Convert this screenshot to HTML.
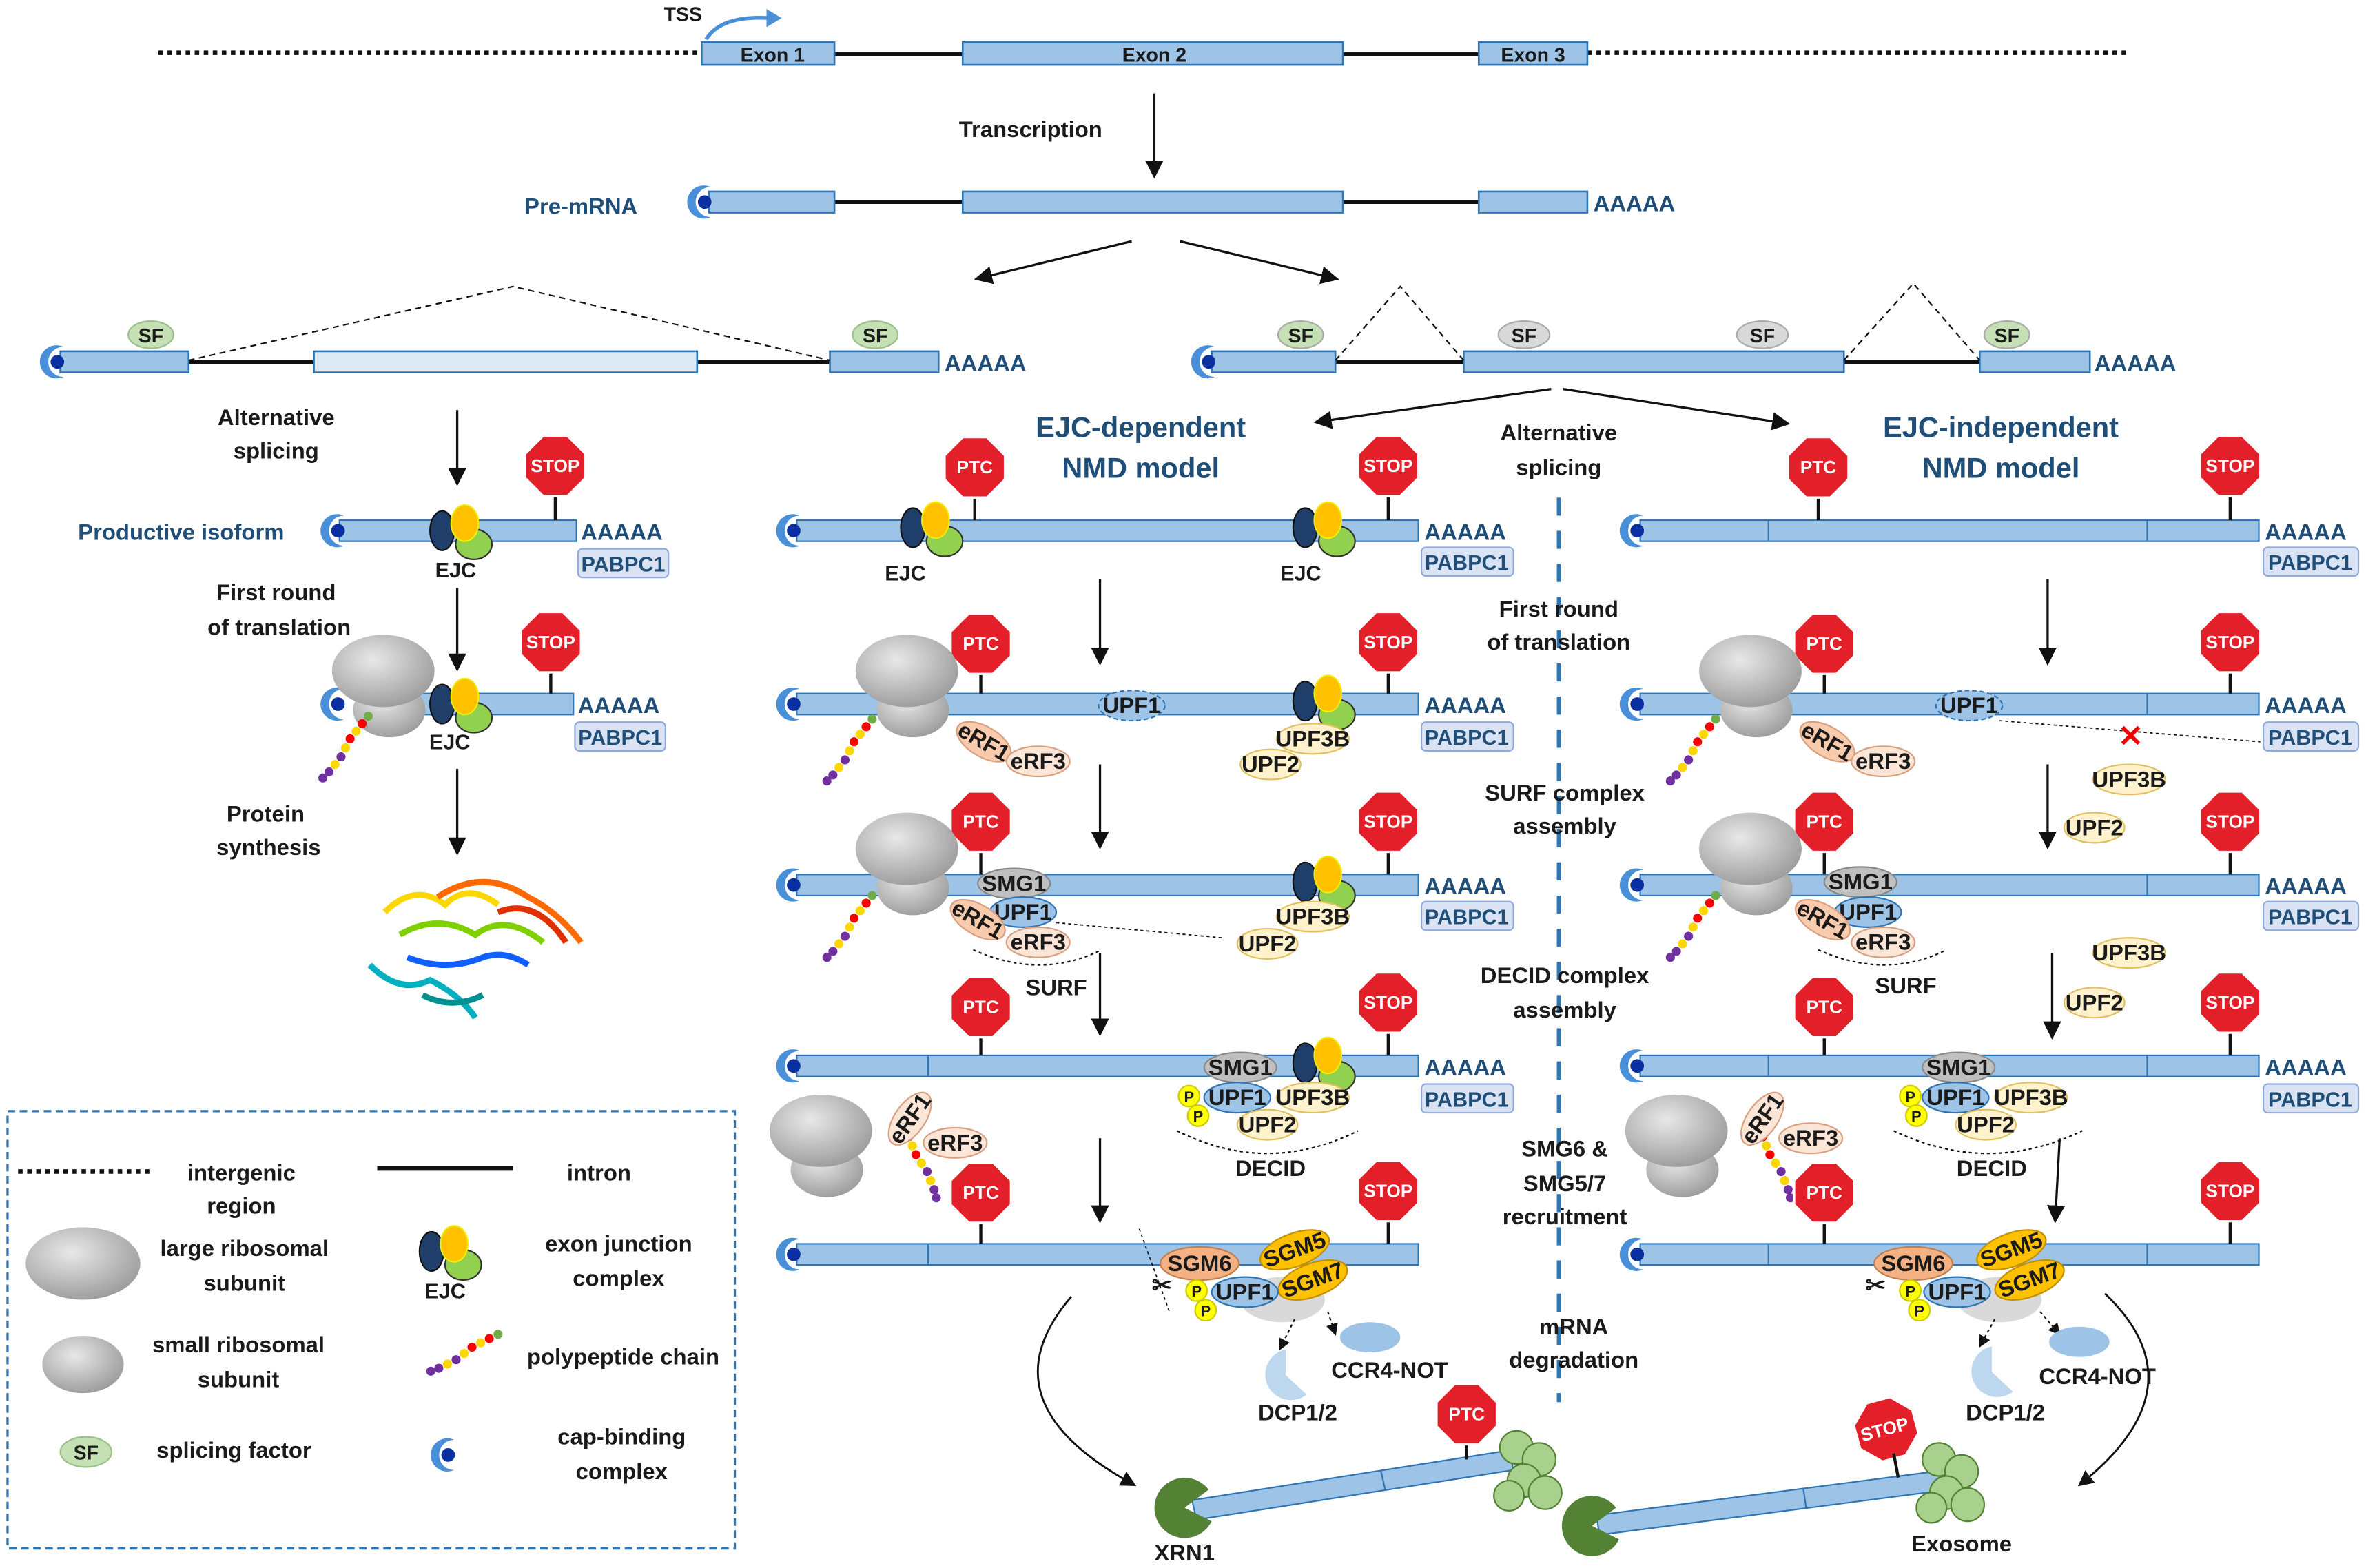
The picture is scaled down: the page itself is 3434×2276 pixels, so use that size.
<!DOCTYPE html>
<html><head><meta charset="utf-8"><style>
html,body{margin:0;padding:0;background:#fff}
svg{display:block}
text{font-family:"Liberation Sans",sans-serif;font-weight:bold;font-size:15px;fill:#1a1a1a}
.c{text-anchor:middle}
.b{fill:#1f4e79}
.w{fill:#fff;font-size:12px;text-anchor:middle}
.s{font-size:13px;text-anchor:middle}
</style></head><body>
<svg width="3434" height="2276" viewBox="0 0 1568 1040" preserveAspectRatio="none" xmlns="http://www.w3.org/2000/svg">
<defs>
<radialGradient id="g" cx="40%" cy="35%" r="70%"><stop offset="0" stop-color="#e8e8e8"/><stop offset="1" stop-color="#9a9a9a"/></radialGradient>
<polygon id="oct" points="-8,-20 8,-20 20,-8 20,8 8,20 -8,20 -20,8 -20,-8" fill="#e3202a" stroke="#fff" stroke-width="1.5"/>
<g id="cap"><path d="M6,-10 A11,11 0 1 0 6,10 A8,8 0 0 1 6,-10Z" fill="#4a90d9"/><circle cx="2" cy="0" r="4.5" fill="#0a2fa0"/></g>
<g id="rib"><ellipse cx="0" cy="16" rx="24" ry="18" fill="url(#g)"/><ellipse cx="-4" cy="-10" rx="34" ry="24" fill="url(#g)"/></g>
<g id="ejc"><ellipse cx="-7" cy="0" rx="8" ry="13" fill="#1f3e6a" stroke="#111"/><ellipse cx="14" cy="9" rx="12" ry="10" fill="#92d050" stroke="#333"/><ellipse cx="8" cy="-5" rx="9" ry="12" fill="#ffc000" stroke="#ee0"/></g>
<g id="pep"><circle cx="0" cy="0" r="3" fill="#70ad47"/><circle cx="-4" cy="5" r="3" fill="#ff0000"/><circle cx="-8" cy="10" r="3" fill="#ffd700"/><circle cx="-12" cy="15" r="3" fill="#ff0000"/><circle cx="-15" cy="21" r="3" fill="#ffd700"/><circle cx="-18" cy="27" r="3" fill="#7030a0"/><circle cx="-22" cy="32" r="3" fill="#ffd700"/><circle cx="-26" cy="37" r="3" fill="#7030a0"/><circle cx="-30" cy="41" r="3" fill="#7030a0"/></g>
<marker id="ar" markerWidth="8" markerHeight="8" refX="7" refY="4" orient="auto"><path d="M0,0 L8,4 L0,8Z" fill="#111"/></marker>
</defs>
<!-- top gene -->
<line x1="105" y1="35" x2="465" y2="35" stroke="#111" stroke-width="3" stroke-dasharray="3,3"/>
<line x1="1052" y1="35" x2="1410" y2="35" stroke="#111" stroke-width="3" stroke-dasharray="3,3"/>
<line x1="553" y1="36" x2="980" y2="36" stroke="#111" stroke-width="2.5"/>
<g fill="#9dc3e6" stroke="#2e75b6" stroke-width="1.2">
<rect x="465" y="28" width="88" height="15"/><rect x="638" y="28" width="252" height="15"/><rect x="980" y="28" width="72" height="15"/>
</g>
<text x="512" y="41" class="c" style="font-size:13px">Exon 1</text><text x="765" y="41" class="c" style="font-size:13px">Exon 2</text><text x="1016" y="41" class="c" style="font-size:13px">Exon 3</text>
<text x="440" y="14" style="font-size:13px">TSS</text>
<path d="M468,26 Q478,10 510,12" stroke="#4a90d9" stroke-width="2.5" fill="none"/><path d="M508,6 L518,12 L508,18Z" fill="#4a90d9"/>
<text x="683" y="91" class="c">Transcription</text>
<line x1="765" y1="62" x2="765" y2="117" stroke="#111" stroke-width="1.5" marker-end="url(#ar)"/>
<!-- pre-mRNA -->
<text x="385" y="142" class="c b">Pre-mRNA</text>
<line x1="553" y1="134" x2="980" y2="134" stroke="#111" stroke-width="2.5"/>
<g fill="#9dc3e6" stroke="#2e75b6" stroke-width="1.2"><rect x="470" y="127" width="83" height="14"/><rect x="638" y="127" width="252" height="14"/><rect x="980" y="127" width="72" height="14"/></g>
<use href="#cap" x="465" y="134"/>
<text x="1056" y="140" class="b">AAAAA</text>
<line x1="750" y1="160" x2="647" y2="185" stroke="#111" stroke-width="1.5" marker-end="url(#ar)"/>
<line x1="782" y1="160" x2="886" y2="185" stroke="#111" stroke-width="1.5" marker-end="url(#ar)"/>
<!-- left spliced -->
<line x1="125" y1="240" x2="550" y2="240" stroke="#111" stroke-width="2.5"/>
<g fill="#9dc3e6" stroke="#2e75b6" stroke-width="1.2"><rect x="40" y="233" width="85" height="14"/><rect x="208" y="233" width="254" height="14" fill="#deebf7"/><rect x="550" y="233" width="72" height="14"/></g>
<use href="#cap" x="36" y="240"/>
<polyline points="125,239 340,190 550,239" fill="none" stroke="#111" stroke-dasharray="4,3"/>
<text x="626" y="246" class="b">AAAAA</text>
<g fill="#c5e0b4" stroke="#9bc08a"><ellipse cx="100" cy="222" rx="15" ry="9"/><ellipse cx="580" cy="222" rx="15" ry="9"/></g>
<text x="100" y="227" class="s">SF</text><text x="580" y="227" class="s">SF</text>
<!-- right spliced -->
<line x1="885" y1="240" x2="1312" y2="240" stroke="#111" stroke-width="2.5"/>
<g fill="#9dc3e6" stroke="#2e75b6" stroke-width="1.2"><rect x="803" y="233" width="82" height="14"/><rect x="970" y="233" width="252" height="14"/><rect x="1312" y="233" width="73" height="14"/></g>
<use href="#cap" x="799" y="240"/>
<polyline points="885,239 928,190 970,239" fill="none" stroke="#111" stroke-dasharray="4,3"/>
<polyline points="1222,239 1268,188 1312,239" fill="none" stroke="#111" stroke-dasharray="4,3"/>
<text x="1388" y="246" class="b">AAAAA</text>
<g stroke="#aaa"><ellipse cx="862" cy="222" rx="15" ry="9" fill="#c5e0b4"/><ellipse cx="1010" cy="222" rx="17" ry="9" fill="#d9d9d9"/><ellipse cx="1168" cy="222" rx="17" ry="9" fill="#d9d9d9"/><ellipse cx="1330" cy="222" rx="15" ry="9" fill="#c5e0b4"/></g>
<text x="862" y="227" class="s">SF</text><text x="1010" y="227" class="s">SF</text><text x="1168" y="227" class="s">SF</text><text x="1330" y="227" class="s">SF</text>
<line x1="1028" y1="258" x2="872" y2="280" stroke="#111" stroke-width="1.5" marker-end="url(#ar)"/>
<line x1="1036" y1="258" x2="1185" y2="281" stroke="#111" stroke-width="1.5" marker-end="url(#ar)"/>
<text x="756" y="290" class="c b" style="font-size:19px">EJC-dependent</text><text x="756" y="317" class="c b" style="font-size:19px">NMD model</text>
<text x="1326" y="290" class="c b" style="font-size:19px">EJC-independent</text><text x="1326" y="317" class="c b" style="font-size:19px">NMD model</text>
<text x="1033" y="292" class="c">Alternative</text><text x="1033" y="315" class="c">splicing</text>
<line x1="1033" y1="330" x2="1033" y2="930" stroke="#2e75b6" stroke-width="2.5" stroke-dasharray="12,10"/>
<text x="1033" y="409" class="c">First round</text><text x="1033" y="431" class="c">of translation</text>
<text x="1037" y="531" class="c">SURF complex</text><text x="1037" y="553" class="c">assembly</text>
<text x="1037" y="652" class="c">DECID complex</text><text x="1037" y="675" class="c">assembly</text>
<text x="1037" y="767" class="c">SMG6 &amp;</text><text x="1037" y="790" class="c">SMG5/7</text><text x="1037" y="812" class="c">recruitment</text>
<text x="1043" y="885" class="c">mRNA</text><text x="1043" y="907" class="c">degradation</text>

<!-- LEFT column -->
<text x="183" y="282" class="c">Alternative</text><text x="183" y="304" class="c">splicing</text>
<line x1="303" y1="272" x2="303" y2="321" stroke="#111" stroke-width="1.5" marker-end="url(#ar)"/>
<text x="120" y="358" class="c b">Productive isoform</text>
<rect x="225" y="345" width="157" height="14" fill="#9dc3e6" stroke="#2e75b6"/><use href="#cap" x="222" y="352"/>
<line x1="368" y1="325" x2="368" y2="345" stroke="#111" stroke-width="2"/><use href="#oct" x="368" y="309"/><text x="368" y="313" class="w">STOP</text>
<use href="#ejc" x="300" y="352"/><text x="302" y="383" class="c" style="font-size:14px">EJC</text>
<text x="385" y="358" class="b">AAAAA</text><rect x="383" y="364" width="60" height="19" rx="3" fill="#dae3f3" stroke="#8faadc"/><text x="413" y="379" class="c b" style="font-size:14px">PABPC1</text>
<text x="183" y="398" class="c">First round</text><text x="185" y="421" class="c">of translation</text>
<line x1="303" y1="390" x2="303" y2="444" stroke="#111" stroke-width="1.5" marker-end="url(#ar)"/>
<rect x="240" y="460" width="140" height="14" fill="#9dc3e6" stroke="#2e75b6"/><use href="#cap" x="222" y="467"/>
<use href="#rib" x="258" y="455"/><use href="#pep" x="244" y="475"/>
<line x1="365" y1="442" x2="365" y2="460" stroke="#111" stroke-width="2"/><use href="#oct" x="365" y="426"/><text x="365" y="430" class="w">STOP</text>
<use href="#ejc" x="300" y="467"/><text x="298" y="497" class="c" style="font-size:14px">EJC</text>
<text x="383" y="473" class="b">AAAAA</text><rect x="381" y="479" width="60" height="19" rx="3" fill="#dae3f3" stroke="#8faadc"/><text x="411" y="494" class="c b" style="font-size:14px">PABPC1</text>
<text x="176" y="545" class="c">Protein</text><text x="178" y="567" class="c">synthesis</text>
<line x1="303" y1="510" x2="303" y2="566" stroke="#111" stroke-width="1.5" marker-end="url(#ar)"/>
<g stroke-width="4" fill="none">
<path d="M255,605 q20,-20 40,-5 q15,-15 35,0" stroke="#ffd700"/><path d="M265,620 q25,-15 50,0 q20,-15 45,5" stroke="#7fd000"/><path d="M290,595 q30,-20 60,0 q20,10 35,30" stroke="#ff6a00"/><path d="M270,635 q25,10 50,0 q15,-5 30,5" stroke="#1060ff"/><path d="M245,640 q20,20 40,10 q20,10 30,25" stroke="#00b0c0"/><path d="M330,605 q25,-10 45,20" stroke="#e03000"/><path d="M280,660 q20,10 40,0" stroke="#009090"/>
</g>

<!-- MIDDLE column -->
<rect x="528" y="345" width="412" height="14" fill="#9dc3e6" stroke="#2e75b6"/><use href="#cap" x="524" y="352"/>
<line x1="646" y1="326" x2="646" y2="345" stroke="#111" stroke-width="2"/><use href="#oct" x="646" y="310"/><text x="646" y="314" class="w">PTC</text>
<line x1="920" y1="326" x2="920" y2="345" stroke="#111" stroke-width="2"/><use href="#oct" x="920" y="309"/><text x="920" y="313" class="w">STOP</text>
<use href="#ejc" x="612" y="350"/><use href="#ejc" x="872" y="350"/>
<text x="600" y="385" class="c" style="font-size:14px">EJC</text><text x="862" y="385" class="c" style="font-size:14px">EJC</text>
<text x="944" y="358" class="b">AAAAA</text><rect x="942" y="363" width="61" height="19" rx="3" fill="#dae3f3" stroke="#8faadc"/><text x="972" y="378" class="c b" style="font-size:14px">PABPC1</text>
<line x1="729" y1="384" x2="729" y2="440" stroke="#111" stroke-width="1.5" marker-end="url(#ar)"/>
<rect x="528" y="460" width="412" height="14" fill="#9dc3e6" stroke="#2e75b6"/><use href="#cap" x="524" y="467"/>
<line x1="650" y1="443" x2="650" y2="460" stroke="#111" stroke-width="2"/><use href="#oct" x="650" y="427"/><text x="650" y="431" class="w">PTC</text>
<line x1="920" y1="442" x2="920" y2="460" stroke="#111" stroke-width="2"/><use href="#oct" x="920" y="426"/><text x="920" y="430" class="w">STOP</text>
<use href="#rib" x="605" y="455"/><use href="#pep" x="578" y="477"/>
<ellipse cx="750" cy="468" rx="22" ry="10" fill="#9dc3e6" stroke="#2e75b6" stroke-dasharray="3,2"/><text x="750" y="473" class="c">UPF1</text>
<ellipse cx="652" cy="492" rx="20" ry="10" fill="#f8cbad" stroke="#d9a080" transform="rotate(30 652 492)"/><text x="652" y="497" class="c" transform="rotate(30 652 492)">eRF1</text>
<ellipse cx="688" cy="505" rx="21" ry="10" fill="#fbe5d6" stroke="#d9a080"/><text x="688" y="510" class="c">eRF3</text>
<use href="#ejc" x="872" y="465"/>
<ellipse cx="870" cy="490" rx="24" ry="10" fill="#fff2cc" stroke="#e0c060"/><text x="870" y="495" class="c">UPF3B</text>
<ellipse cx="842" cy="507" rx="20" ry="10" fill="#fff2cc" stroke="#e0c060"/><text x="842" y="512" class="c">UPF2</text>
<text x="944" y="473" class="b">AAAAA</text><rect x="942" y="479" width="61" height="19" rx="3" fill="#dae3f3" stroke="#8faadc"/><text x="972" y="494" class="c b" style="font-size:14px">PABPC1</text>
<line x1="729" y1="507" x2="729" y2="562" stroke="#111" stroke-width="1.5" marker-end="url(#ar)"/>
<rect x="528" y="580" width="412" height="14" fill="#9dc3e6" stroke="#2e75b6"/><use href="#cap" x="524" y="587"/>
<line x1="650" y1="561" x2="650" y2="580" stroke="#111" stroke-width="2"/><use href="#oct" x="650" y="545"/><text x="650" y="549" class="w">PTC</text>
<line x1="920" y1="561" x2="920" y2="580" stroke="#111" stroke-width="2"/><use href="#oct" x="920" y="545"/><text x="920" y="549" class="w">STOP</text>
<use href="#rib" x="605" y="573"/><use href="#pep" x="578" y="594"/>
<ellipse cx="672" cy="586" rx="24" ry="10" fill="#bfbfbf" stroke="#888"/><text x="672" y="591" class="c">SMG1</text>
<ellipse cx="678" cy="605" rx="22" ry="10" fill="#9dc3e6" stroke="#2e75b6"/><text x="678" y="610" class="c">UPF1</text>
<ellipse cx="648" cy="610" rx="20" ry="10" fill="#f8cbad" stroke="#d9a080" transform="rotate(30 648 610)"/><text x="648" y="615" class="c" transform="rotate(30 648 610)">eRF1</text>
<ellipse cx="688" cy="625" rx="21" ry="10" fill="#fbe5d6" stroke="#d9a080"/><text x="688" y="630" class="c">eRF3</text>
<path d="M645,630 Q690,650 730,630" fill="none" stroke="#111" stroke-dasharray="2,2"/>
<text x="700" y="660" class="c">SURF</text>
<line x1="700" y1="612" x2="810" y2="622" stroke="#111" stroke-width="0.8" stroke-dasharray="2,2"/>
<use href="#ejc" x="872" y="585"/>
<ellipse cx="870" cy="608" rx="24" ry="10" fill="#fff2cc" stroke="#e0c060"/><text x="870" y="613" class="c">UPF3B</text>
<ellipse cx="840" cy="626" rx="20" ry="10" fill="#fff2cc" stroke="#e0c060"/><text x="840" y="631" class="c">UPF2</text>
<text x="944" y="593" class="b">AAAAA</text><rect x="942" y="598" width="61" height="19" rx="3" fill="#dae3f3" stroke="#8faadc"/><text x="972" y="613" class="c b" style="font-size:14px">PABPC1</text>
<line x1="729" y1="632" x2="729" y2="686" stroke="#111" stroke-width="1.5" marker-end="url(#ar)"/>
<rect x="528" y="700" width="412" height="14" fill="#9dc3e6" stroke="#2e75b6"/><use href="#cap" x="524" y="707"/>
<line x1="615" y1="700" x2="615" y2="714" stroke="#2e75b6"/>
<line x1="650" y1="684" x2="650" y2="700" stroke="#111" stroke-width="2"/><use href="#oct" x="650" y="668"/><text x="650" y="672" class="w">PTC</text>
<line x1="920" y1="681" x2="920" y2="700" stroke="#111" stroke-width="2"/><use href="#oct" x="920" y="665"/><text x="920" y="669" class="w">STOP</text>
<use href="#ejc" x="872" y="705"/>
<ellipse cx="822" cy="708" rx="24" ry="10" fill="#bfbfbf" stroke="#888"/><text x="822" y="713" class="c">SMG1</text>
<ellipse cx="820" cy="728" rx="22" ry="10" fill="#9dc3e6" stroke="#2e75b6"/><text x="820" y="733" class="c">UPF1</text>
<ellipse cx="870" cy="728" rx="24" ry="10" fill="#fff2cc" stroke="#e0c060"/><text x="870" y="733" class="c">UPF3B</text>
<ellipse cx="840" cy="746" rx="20" ry="10" fill="#fff2cc" stroke="#e0c060"/><text x="840" y="751" class="c">UPF2</text>
<circle cx="788" cy="727" r="7" fill="#ffff00" stroke="#cc0"/><text x="788" y="731" class="c" style="font-size:10px">P</text>
<circle cx="794" cy="740" r="7" fill="#ffff00" stroke="#cc0"/><text x="794" y="744" class="c" style="font-size:10px">P</text>
<path d="M780,750 Q840,780 900,750" fill="none" stroke="#111" stroke-dasharray="2,2"/>
<text x="842" y="780" class="c">DECID</text>
<text x="944" y="713" class="b">AAAAA</text><rect x="942" y="719" width="61" height="19" rx="3" fill="#dae3f3" stroke="#8faadc"/><text x="972" y="734" class="c b" style="font-size:14px">PABPC1</text>
<use href="#rib" x="548" y="760"/><use href="#pep" x="600" y="748" transform="rotate(-60 600 748)"/>
<ellipse cx="603" cy="742" rx="20" ry="10" fill="#fbe5d6" stroke="#d9a080" transform="rotate(-55 603 742)"/><text x="603" y="747" class="c" transform="rotate(-55 603 742)">eRF1</text>
<ellipse cx="633" cy="758" rx="21" ry="10" fill="#fbe5d6" stroke="#d9a080"/><text x="633" y="763" class="c">eRF3</text>
<line x1="729" y1="755" x2="729" y2="810" stroke="#111" stroke-width="1.5" marker-end="url(#ar)"/>
<rect x="528" y="825" width="412" height="14" fill="#9dc3e6" stroke="#2e75b6"/><use href="#cap" x="524" y="832"/>
<line x1="615" y1="825" x2="615" y2="839" stroke="#2e75b6"/>
<line x1="650" y1="807" x2="650" y2="825" stroke="#111" stroke-width="2"/><use href="#oct" x="650" y="791"/><text x="650" y="795" class="w">PTC</text>
<line x1="920" y1="806" x2="920" y2="825" stroke="#111" stroke-width="2"/><use href="#oct" x="920" y="790"/><text x="920" y="794" class="w">STOP</text>
<ellipse cx="850" cy="862" rx="28" ry="15" fill="#d9d9d9"/>
<ellipse cx="795" cy="838" rx="26" ry="11" fill="#f4b183" stroke="#c08050"/><text x="795" y="843" class="c">SGM6</text>
<ellipse cx="858" cy="829" rx="24" ry="11" fill="#ffc000" stroke="#c09000" transform="rotate(-20 858 829)"/><text x="858" y="834" class="c" transform="rotate(-20 858 829)">SGM5</text>
<ellipse cx="870" cy="849" rx="24" ry="11" fill="#ffc000" stroke="#c09000" transform="rotate(-20 870 849)"/><text x="870" y="854" class="c" transform="rotate(-20 870 849)">SGM7</text>
<ellipse cx="825" cy="857" rx="22" ry="10" fill="#9dc3e6" stroke="#2e75b6"/><text x="825" y="862" class="c">UPF1</text>
<circle cx="793" cy="856" r="7" fill="#ffff00" stroke="#cc0"/><text x="793" y="860" class="c" style="font-size:10px">P</text>
<circle cx="799" cy="869" r="7" fill="#ffff00" stroke="#cc0"/><text x="799" y="873" class="c" style="font-size:10px">P</text>
<text x="770" y="858" class="c" style="font-size:16px">✂</text>
<line x1="755" y1="815" x2="775" y2="870" stroke="#111" stroke-width="0.8" stroke-dasharray="2,2"/>
<line x1="858" y1="875" x2="848" y2="895" stroke="#111" stroke-dasharray="2,2" marker-end="url(#ar)"/>
<line x1="880" y1="870" x2="885" y2="885" stroke="#111" stroke-dasharray="2,2" marker-end="url(#ar)"/>
<path d="M852,895 A17,17 0 1 0 866,925 L852,912Z" fill="#bdd7ee"/>
<ellipse cx="908" cy="887" rx="20" ry="10" fill="#9dc3e6"/>
<text x="921" y="914" class="c">CCR4-NOT</text><text x="860" y="942" class="c">DCP1/2</text>
<path d="M710,860 Q650,930 752,985" fill="none" stroke="#111" stroke-width="1.3" marker-end="url(#ar)"/>
<!-- bottom degradation middle -->
<polygon points="790,995 1000,962 1003,975 793,1008" fill="#9dc3e6" stroke="#2e75b6"/>
<line x1="915" y1="975" x2="918" y2="988" stroke="#2e75b6"/>
<path d="M785,1000 L801,988 A20,20 0 1 0 803,1009 Z" fill="#548235"/>
<text x="785" y="1035" class="c">XRN1</text>
<line x1="972" y1="954" x2="972" y2="968" stroke="#111" stroke-width="2"/><use href="#oct" x="972" y="938"/><text x="972" y="942" class="w">PTC</text>
<g fill="#a9d18e" stroke="#548235"><circle cx="1005" cy="960" r="11"/><circle cx="1020" cy="968" r="11"/><circle cx="1010" cy="982" r="11"/><circle cx="1024" cy="990" r="11"/><circle cx="1000" cy="992" r="10"/></g>

<!-- RIGHT column -->
<rect x="1087" y="345" width="410" height="14" fill="#9dc3e6" stroke="#2e75b6"/><use href="#cap" x="1083" y="352"/>
<line x1="1172" y1="345" x2="1172" y2="359" stroke="#2e75b6"/><line x1="1423" y1="345" x2="1423" y2="359" stroke="#2e75b6"/>
<line x1="1205" y1="326" x2="1205" y2="345" stroke="#111" stroke-width="2"/><use href="#oct" x="1205" y="310"/><text x="1205" y="314" class="w">PTC</text>
<line x1="1478" y1="325" x2="1478" y2="345" stroke="#111" stroke-width="2"/><use href="#oct" x="1478" y="309"/><text x="1478" y="313" class="w">STOP</text>
<text x="1501" y="358" class="b">AAAAA</text><rect x="1500" y="363" width="63" height="19" rx="3" fill="#dae3f3" stroke="#8faadc"/><text x="1531" y="378" class="c b" style="font-size:14px">PABPC1</text>
<line x1="1357" y1="384" x2="1357" y2="440" stroke="#111" stroke-width="1.5" marker-end="url(#ar)"/>
<rect x="1087" y="460" width="410" height="14" fill="#9dc3e6" stroke="#2e75b6"/><use href="#cap" x="1083" y="467"/>
<line x1="1423" y1="460" x2="1423" y2="474" stroke="#2e75b6"/>
<line x1="1209" y1="443" x2="1209" y2="460" stroke="#111" stroke-width="2"/><use href="#oct" x="1209" y="427"/><text x="1209" y="431" class="w">PTC</text>
<line x1="1478" y1="442" x2="1478" y2="460" stroke="#111" stroke-width="2"/><use href="#oct" x="1478" y="426"/><text x="1478" y="430" class="w">STOP</text>
<use href="#rib" x="1164" y="455"/><use href="#pep" x="1137" y="477"/>
<ellipse cx="1305" cy="468" rx="22" ry="10" fill="#9dc3e6" stroke="#2e75b6" stroke-dasharray="3,2"/><text x="1305" y="473" class="c">UPF1</text>
<ellipse cx="1211" cy="492" rx="20" ry="10" fill="#f8cbad" stroke="#d9a080" transform="rotate(30 1211 492)"/><text x="1211" y="497" class="c" transform="rotate(30 1211 492)">eRF1</text>
<ellipse cx="1248" cy="505" rx="21" ry="10" fill="#fbe5d6" stroke="#d9a080"/><text x="1248" y="510" class="c">eRF3</text>
<line x1="1325" y1="478" x2="1498" y2="492" stroke="#111" stroke-width="0.8" stroke-dasharray="2,2"/>
<text x="1412" y="495" class="c" style="fill:#e00;font-size:20px">✕</text>
<text x="1501" y="473" class="b">AAAAA</text><rect x="1500" y="479" width="63" height="19" rx="3" fill="#dae3f3" stroke="#8faadc"/><text x="1531" y="494" class="c b" style="font-size:14px">PABPC1</text>
<ellipse cx="1411" cy="517" rx="24" ry="10" fill="#fff2cc" stroke="#e0c060"/><text x="1411" y="522" class="c">UPF3B</text>
<ellipse cx="1388" cy="549" rx="20" ry="10" fill="#fff2cc" stroke="#e0c060"/><text x="1388" y="554" class="c">UPF2</text>
<line x1="1357" y1="507" x2="1357" y2="562" stroke="#111" stroke-width="1.5" marker-end="url(#ar)"/>
<rect x="1087" y="580" width="410" height="14" fill="#9dc3e6" stroke="#2e75b6"/><use href="#cap" x="1083" y="587"/>
<line x1="1423" y1="580" x2="1423" y2="594" stroke="#2e75b6"/>
<line x1="1209" y1="561" x2="1209" y2="580" stroke="#111" stroke-width="2"/><use href="#oct" x="1209" y="545"/><text x="1209" y="549" class="w">PTC</text>
<line x1="1478" y1="561" x2="1478" y2="580" stroke="#111" stroke-width="2"/><use href="#oct" x="1478" y="545"/><text x="1478" y="549" class="w">STOP</text>
<use href="#rib" x="1164" y="573"/><use href="#pep" x="1137" y="594"/>
<ellipse cx="1233" cy="585" rx="24" ry="10" fill="#bfbfbf" stroke="#888"/><text x="1233" y="590" class="c">SMG1</text>
<ellipse cx="1238" cy="605" rx="22" ry="10" fill="#9dc3e6" stroke="#2e75b6"/><text x="1238" y="610" class="c">UPF1</text>
<ellipse cx="1208" cy="610" rx="20" ry="10" fill="#f8cbad" stroke="#d9a080" transform="rotate(30 1208 610)"/><text x="1208" y="615" class="c" transform="rotate(30 1208 610)">eRF1</text>
<ellipse cx="1248" cy="625" rx="21" ry="10" fill="#fbe5d6" stroke="#d9a080"/><text x="1248" y="630" class="c">eRF3</text>
<path d="M1205,630 Q1250,650 1290,630" fill="none" stroke="#111" stroke-dasharray="2,2"/>
<text x="1263" y="659" class="c">SURF</text>
<text x="1501" y="593" class="b">AAAAA</text><rect x="1500" y="598" width="63" height="19" rx="3" fill="#dae3f3" stroke="#8faadc"/><text x="1531" y="613" class="c b" style="font-size:14px">PABPC1</text>
<ellipse cx="1411" cy="632" rx="24" ry="10" fill="#fff2cc" stroke="#e0c060"/><text x="1411" y="637" class="c">UPF3B</text>
<ellipse cx="1388" cy="665" rx="20" ry="10" fill="#fff2cc" stroke="#e0c060"/><text x="1388" y="670" class="c">UPF2</text>
<line x1="1360" y1="632" x2="1360" y2="688" stroke="#111" stroke-width="1.5" marker-end="url(#ar)"/>
<rect x="1087" y="700" width="410" height="14" fill="#9dc3e6" stroke="#2e75b6"/><use href="#cap" x="1083" y="707"/>
<line x1="1172" y1="700" x2="1172" y2="714" stroke="#2e75b6"/><line x1="1423" y1="700" x2="1423" y2="714" stroke="#2e75b6"/>
<line x1="1209" y1="684" x2="1209" y2="700" stroke="#111" stroke-width="2"/><use href="#oct" x="1209" y="668"/><text x="1209" y="672" class="w">PTC</text>
<line x1="1478" y1="681" x2="1478" y2="700" stroke="#111" stroke-width="2"/><use href="#oct" x="1478" y="665"/><text x="1478" y="669" class="w">STOP</text>
<ellipse cx="1298" cy="708" rx="24" ry="10" fill="#bfbfbf" stroke="#888"/><text x="1298" y="713" class="c">SMG1</text>
<ellipse cx="1296" cy="728" rx="22" ry="10" fill="#9dc3e6" stroke="#2e75b6"/><text x="1296" y="733" class="c">UPF1</text>
<ellipse cx="1346" cy="728" rx="24" ry="10" fill="#fff2cc" stroke="#e0c060"/><text x="1346" y="733" class="c">UPF3B</text>
<ellipse cx="1316" cy="746" rx="20" ry="10" fill="#fff2cc" stroke="#e0c060"/><text x="1316" y="751" class="c">UPF2</text>
<circle cx="1266" cy="727" r="7" fill="#ffff00" stroke="#cc0"/><text x="1266" y="731" class="c" style="font-size:10px">P</text>
<circle cx="1270" cy="740" r="7" fill="#ffff00" stroke="#cc0"/><text x="1270" y="744" class="c" style="font-size:10px">P</text>
<path d="M1255,750 Q1318,780 1380,750" fill="none" stroke="#111" stroke-dasharray="2,2"/>
<text x="1320" y="780" class="c">DECID</text>
<text x="1501" y="713" class="b">AAAAA</text><rect x="1500" y="719" width="63" height="19" rx="3" fill="#dae3f3" stroke="#8faadc"/><text x="1531" y="734" class="c b" style="font-size:14px">PABPC1</text>
<use href="#rib" x="1115" y="760"/><use href="#pep" x="1166" y="748" transform="rotate(-60 1166 748)"/>
<ellipse cx="1168" cy="742" rx="20" ry="10" fill="#fbe5d6" stroke="#d9a080" transform="rotate(-55 1168 742)"/><text x="1168" y="747" class="c" transform="rotate(-55 1168 742)">eRF1</text>
<ellipse cx="1200" cy="755" rx="21" ry="10" fill="#fbe5d6" stroke="#d9a080"/><text x="1200" y="760" class="c">eRF3</text>
<line x1="1365" y1="755" x2="1362" y2="810" stroke="#111" stroke-width="1.5" marker-end="url(#ar)"/>
<rect x="1087" y="825" width="410" height="14" fill="#9dc3e6" stroke="#2e75b6"/><use href="#cap" x="1083" y="832"/>
<line x1="1172" y1="825" x2="1172" y2="839" stroke="#2e75b6"/><line x1="1423" y1="825" x2="1423" y2="839" stroke="#2e75b6"/>
<line x1="1209" y1="807" x2="1209" y2="825" stroke="#111" stroke-width="2"/><use href="#oct" x="1209" y="791"/><text x="1209" y="795" class="w">PTC</text>
<line x1="1478" y1="806" x2="1478" y2="825" stroke="#111" stroke-width="2"/><use href="#oct" x="1478" y="790"/><text x="1478" y="794" class="w">STOP</text>
<ellipse cx="1325" cy="862" rx="28" ry="15" fill="#d9d9d9"/>
<ellipse cx="1268" cy="838" rx="26" ry="11" fill="#f4b183" stroke="#c08050"/><text x="1268" y="843" class="c">SGM6</text>
<ellipse cx="1333" cy="829" rx="24" ry="11" fill="#ffc000" stroke="#c09000" transform="rotate(-20 1333 829)"/><text x="1333" y="834" class="c" transform="rotate(-20 1333 829)">SGM5</text>
<ellipse cx="1345" cy="849" rx="24" ry="11" fill="#ffc000" stroke="#c09000" transform="rotate(-20 1345 849)"/><text x="1345" y="854" class="c" transform="rotate(-20 1345 849)">SGM7</text>
<ellipse cx="1297" cy="857" rx="22" ry="10" fill="#9dc3e6" stroke="#2e75b6"/><text x="1297" y="862" class="c">UPF1</text>
<circle cx="1266" cy="856" r="7" fill="#ffff00" stroke="#cc0"/><text x="1266" y="860" class="c" style="font-size:10px">P</text>
<circle cx="1272" cy="869" r="7" fill="#ffff00" stroke="#cc0"/><text x="1272" y="873" class="c" style="font-size:10px">P</text>
<text x="1243" y="858" class="c" style="font-size:16px">✂</text>
<line x1="1322" y1="875" x2="1312" y2="893" stroke="#111" stroke-dasharray="2,2" marker-end="url(#ar)"/>
<line x1="1352" y1="870" x2="1365" y2="885" stroke="#111" stroke-dasharray="2,2" marker-end="url(#ar)"/>
<path d="M1320,893 A17,17 0 1 0 1334,923 L1320,910Z" fill="#bdd7ee"/>
<ellipse cx="1378" cy="890" rx="20" ry="10" fill="#9dc3e6"/>
<text x="1390" y="918" class="c">CCR4-NOT</text><text x="1329" y="942" class="c">DCP1/2</text>
<path d="M1395,858 Q1460,920 1378,985" fill="none" stroke="#111" stroke-width="1.3" marker-end="url(#ar)"/>
<!-- bottom right degradation -->
<polygon points="1058,1005 1290,975 1292,988 1060,1018" fill="#9dc3e6" stroke="#2e75b6"/>
<line x1="1195" y1="987" x2="1197" y2="1000" stroke="#2e75b6"/>
<path d="M1055,1012 L1071,1000 A20,20 0 1 0 1073,1021 Z" fill="#548235"/>
<use href="#oct" x="1250" y="948" transform="rotate(-15 1250 948)"/><text x="1250" y="952" class="w" transform="rotate(-15 1250 952)">STOP</text>
<line x1="1255" y1="964" x2="1258" y2="980" stroke="#111" stroke-width="2"/>
<g fill="#a9d18e" stroke="#548235"><circle cx="1285" cy="968" r="11"/><circle cx="1300" cy="976" r="11"/><circle cx="1290" cy="990" r="11"/><circle cx="1304" cy="998" r="11"/><circle cx="1280" cy="1000" r="10"/></g>
<text x="1300" y="1029" class="c">Exosome</text>

<!-- Legend -->
<rect x="5" y="737" width="482" height="290" fill="none" stroke="#2e75b6" stroke-width="1.5" stroke-dasharray="5,3"/>
<line x1="12" y1="777" x2="100" y2="777" stroke="#111" stroke-width="3" stroke-dasharray="3,3"/>
<text x="160" y="783" class="c">intergenic</text><text x="160" y="805" class="c">region</text>
<line x1="250" y1="775" x2="340" y2="775" stroke="#111" stroke-width="3"/>
<text x="397" y="783" class="c">intron</text>
<ellipse cx="55" cy="838" rx="38" ry="24" fill="url(#g)"/>
<text x="162" y="833" class="c">large ribosomal</text><text x="162" y="856" class="c">subunit</text>
<use href="#ejc" x="293" y="830"/><text x="295" y="861" class="c" style="font-size:14px">EJC</text>
<text x="410" y="830" class="c">exon junction</text><text x="410" y="853" class="c">complex</text>
<ellipse cx="55" cy="905" rx="27" ry="19" fill="url(#g)"/>
<text x="158" y="897" class="c">small ribosomal</text><text x="158" y="920" class="c">subunit</text>
<use href="#pep" x="330" y="885" transform="rotate(25 330 885)"/>
<text x="413" y="905" class="c">polypeptide chain</text>
<ellipse cx="57" cy="963" rx="17" ry="10" fill="#c5e0b4" stroke="#9bc08a"/><text x="57" y="968" class="s">SF</text>
<text x="155" y="967" class="c">splicing factor</text>
<use href="#cap" x="295" y="965"/>
<text x="412" y="958" class="c">cap-binding</text><text x="412" y="981" class="c">complex</text>
</svg>
</body></html>
